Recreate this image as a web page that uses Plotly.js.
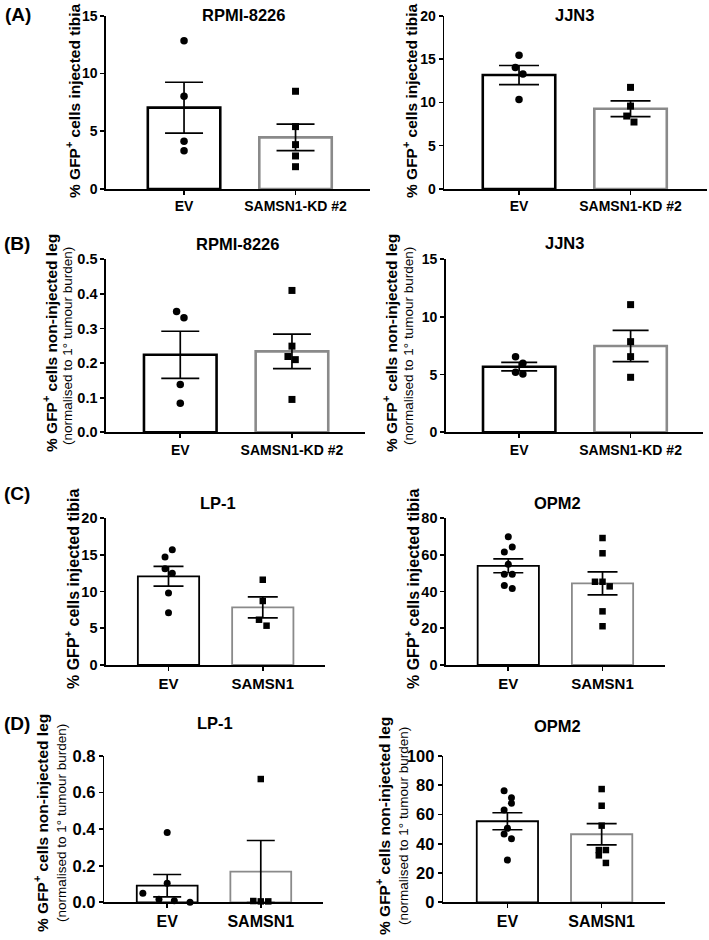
<!DOCTYPE html>
<html><head><meta charset="utf-8">
<script src="https://cdn.plot.ly/plotly-3.0.1.min.js"></script>
<style>html,body{margin:0;padding:0;background:#fff}#chart{width:709px;height:940px}</style>
</head><body><div id="chart"></div>
<script>
// ---------- categories ----------
const catsKD = ["EV", "SAMSN1-KD #2"];
const catsOE = ["EV", "SAMSN1"];

// ---------- (A) injected tibia, knock-down ----------
const aRpmiMean = [7.04, 4.47];
const aRpmiSem  = [2.20, 1.15];
const aRpmiEV   = [12.84, 8.03, 4.13, 3.32];
const aRpmiKD   = [8.46, 5.40, 3.84, 2.86, 1.93];

const aJjnMean = [13.15, 9.26];
const aJjnSem  = [1.10, 0.90];
const aJjnEV   = [15.45, 14.03, 13.26, 10.34];
const aJjnKD   = [11.73, 9.57, 8.42, 7.73];

// ---------- (B) non-injected leg, knock-down ----------
const bRpmiMean = [0.224, 0.234];
const bRpmiSem  = [0.068, 0.050];
const bRpmiEV   = [0.349, 0.331, 0.138, 0.084];
const bRpmiKD   = [0.410, 0.249, 0.219, 0.210, 0.095];

const bJjnMean = [5.69, 7.48];
const bJjnSem  = [0.37, 1.36];
const bJjnEV   = [6.56, 5.98, 5.20, 5.06];
const bJjnKD   = [11.07, 7.86, 6.56, 4.77];

// ---------- (C) injected tibia, over-expression ----------
const cLpMean = [12.07, 7.85];
const cLpSem  = [1.34, 1.43];
const cLpEV   = [15.69, 14.69, 13.10, 12.47, 9.80, 7.12];
const cLpOE   = [11.60, 8.71, 6.16, 5.35];

const cOpmMean = [54.0, 44.4];
const cOpmSem  = [3.8, 6.25];
const cOpmEV   = [69.8, 64.2, 61.5, 54.8, 49.4, 49.4, 43.2, 41.7];
const cOpmOE   = [69.1, 60.8, 45.3, 45.3, 42.8, 29.2, 21.1];

// ---------- (D) non-injected leg, over-expression ----------
const dLpMean = [0.091, 0.168];
const dLpSem  = [0.061, 0.170];
const dLpEV   = [0.381, 0.104, 0.049, 0.016, 0.009, 0.000];
const dLpOE   = [0.674, 0.007, 0.005, 0.005];

const dOpmMean = [55.4, 46.5];
const dOpmSem  = [5.8, 7.3];
const dOpmEV   = [76.3, 71.5, 67.7, 63.1, 50.6, 46.7, 43.5, 28.9];
const dOpmOE   = [77.4, 66.0, 52.4, 35.7, 35.7, 32.1, 26.9];

// ---------- horizontal scatter spread of the dots (category units) ----------
const jA1e = [0, 0, 0, 0],            jA1k = [0, 0, 0, 0, 0];
const jA2e = [0, -0.033, 0.035, 0],   jA2k = [0, 0, -0.034, 0.031];
const jB1e = [-0.033, 0.033, 0, 0],   jB1k = [0, 0, -0.036, 0.03, 0];
const jB2e = [-0.033, 0.033, -0.033, 0.033], jB2k = [0, 0, 0, 0];
const jC1e = [0.04, -0.037, -0.037, 0.04, 0, 0], jC1k = [0, 0, -0.04, 0.04];
const jC2e = [0, 0.042, -0.042, 0, -0.042, 0.042, -0.042, 0.042];
const jC2k = [0, 0, -0.08, 0, 0.076, 0, 0];
const jD1e = [0, 0, -0.26, -0.088, 0.076, 0.244], jD1k = [0, -0.08, 0, 0.08];
const jD2e = [-0.035, 0.043, 0.043, -0.035, 0, -0.035, 0.043, 0];
const jD2k = [0, 0, 0, -0.03, 0.045, -0.03, 0.045];

const W = 709, H = 940;
const F = "Liberation Sans, Arial, sans-serif";

const panels = [
  {cats:catsKD, mean:aRpmiMean, sem:aRpmiSem, a:aRpmiEV, b:aRpmiKD, ja:jA1e, jb:jA1k,
   px:[106,370], py:[15.7,189], xr:[-0.70,1.668], yr:[0,15], dt:5, fmt:"", lw:2.6, cap:19, ms:7.5, ytf:14, xtf:14},
  {cats:catsKD, mean:aJjnMean, sem:aJjnSem, a:aJjnEV, b:aJjnKD, ja:jA2e, jb:jA2k,
   px:[444.3,706.7], py:[15.7,189], xr:[-0.67,1.683], yr:[0,20], dt:5, fmt:"", lw:2.6, cap:20, ms:7.5, ytf:14, xtf:14},
  {cats:catsKD, mean:bRpmiMean, sem:bRpmiSem, a:bRpmiEV, b:bRpmiKD, ja:jB1e, jb:jB1k,
   px:[106,365], py:[259.3,432.3], xr:[-0.665,1.654], yr:[0,0.5], dt:0.1, fmt:".1f", lw:2.6, cap:19, ms:7.5, ytf:14.5, xtf:14},
  {cats:catsKD, mean:bJjnMean, sem:bJjnSem, a:bJjnEV, b:bJjnKD, ja:jB2e, jb:jB2k,
   px:[445.7,703], py:[259.3,432.3], xr:[-0.66,1.65], yr:[0,15], dt:5, fmt:"", lw:2.6, cap:18, ms:7.5, ytf:14, xtf:14},
  {cats:catsOE, mean:cLpMean, sem:cLpSem, a:cLpEV, b:cLpOE, ja:jC1e, jb:jC1k,
   px:[106,325], py:[518,665], xr:[-0.663,1.66], yr:[0,20], dt:5, fmt:"", lw:1.8, cap:15, ms:7, ytf:14.5, xtf:15},
  {cats:catsOE, mean:cOpmMean, sem:cOpmSem, a:cOpmEV, b:cOpmOE, ja:jC2e, jb:jC2k,
   px:[446,665], py:[518,665], xr:[-0.661,1.663], yr:[0,80], dt:20, fmt:"", lw:1.8, cap:15, ms:7, ytf:14.5, xtf:15},
  {cats:catsOE, mean:dLpMean, sem:dLpSem, a:dLpEV, b:dLpOE, ja:jD1e, jb:jD1k,
   px:[104.3,323.3], py:[756,902.3], xr:[-0.672,1.668], yr:[0,0.8], dt:0.2, fmt:".1f", lw:1.8, cap:14, ms:7, ytf:16.5, xtf:16},
  {cats:catsOE, mean:dOpmMean, sem:dOpmSem, a:dOpmEV, b:dOpmOE, ja:jD2e, jb:jD2k,
   px:[443.3,665], py:[756,902.3], xr:[-0.68,1.672], yr:[0,100], dt:20, fmt:"", lw:1.8, cap:15, ms:7, ytf:16.5, xtf:16}
];

const traces = [];
const layout = {
  width: W, height: H, margin: {l:0, r:0, t:0, b:0},
  paper_bgcolor: "#fff", plot_bgcolor: "rgba(0,0,0,0)",
  showlegend: false, font: {family: F, color: "#000"},
  annotations: []
};

panels.forEach((p, i) => {
  const n = i + 1, xa = "x" + (n === 1 ? "" : n), ya = "y" + (n === 1 ? "" : n);
  traces.push({
    type: "bar", x: [0, 1], y: p.mean, width: 0.65, xaxis: xa, yaxis: ya,
    marker: {color: "#ffffff", line: {color: ["#000000", "#8a8a8a"], width: p.lw}},
    error_y: {type: "data", array: p.sem, visible: true, color: "#000", thickness: 1.7, width: p.cap},
    hoverinfo: "skip"
  });
  traces.push({
    type: "scatter", mode: "markers", xaxis: xa, yaxis: ya, cliponaxis: false,
    x: p.a.map((v, k) => 0 + p.ja[k]), y: p.a,
    marker: {symbol: "circle", size: p.ms, color: "#000"}
  });
  traces.push({
    type: "scatter", mode: "markers", xaxis: xa, yaxis: ya, cliponaxis: false,
    x: p.b.map((v, k) => 1 + p.jb[k]), y: p.b,
    marker: {symbol: "square", size: p.ms - 0.5, color: "#000"}
  });
  const common = {showline: true, linecolor: "#000", linewidth: 1.6, ticks: "outside", ticklen: 4,
                  tickwidth: 1.6, tickcolor: "#000", showgrid: false, zeroline: false, fixedrange: true};
  layout["xaxis" + (n === 1 ? "" : n)] = Object.assign({}, common, {
    domain: [p.px[0] / W, p.px[1] / W], range: p.xr, anchor: ya,
    tickmode: "array", tickvals: [0, 1], ticktext: p.cats,
    tickfont: {family: F, size: p.xtf, color: "#000", weight: "bold"}
  });
  layout["yaxis" + (n === 1 ? "" : n)] = Object.assign({}, common, {
    domain: [1 - p.py[1] / H, 1 - p.py[0] / H], range: p.yr, anchor: xa,
    tick0: 0, dtick: p.dt, tickformat: p.fmt,
    tickfont: {family: F, size: p.ytf, color: "#000", weight: "bold"}
  });
});

function ann(text, x, y, size, opts) {
  layout.annotations.push(Object.assign({
    text: text, x: x / W, y: 1 - y / H, xref: "paper", yref: "paper",
    xanchor: "center", yanchor: "middle", showarrow: false,
    font: {family: F, size: size, color: "#000", weight: "bold"}
  }, opts || {}));
}

// panel titles
ann("RPMI-8226", 243, 15, 16.5);
ann("JJN3", 574, 15, 16.5);
ann("RPMI-8226", 238, 244, 16.5);
ann("JJN3", 564, 243, 16.5);
ann("LP-1", 218, 503, 16.5);
ann("OPM2", 557, 503, 16.5);
ann("LP-1", 215, 723, 16.5);
ann("OPM2", 557, 726, 16.5);

// panel letters
ann("(A)", 18, 15, 19);
ann("(B)", 17, 243, 19);
ann("(C)", 17, 493, 19);
ann("(D)", 17, 723, 19);

// y-axis titles
const yt1 = "% GFP<sup>+</sup> cells injected tibia";
const yt2 = "% GFP<sup>+</sup> cells non-injected leg";
const yt2b = "(normalised to 1° tumour burden)";
const rot = {textangle: -90};
const reg = (s) => ({textangle: -90, font: {family: F, size: s, color: "#000", weight: "normal"}});
ann(yt1, 73, 101, 15.5, rot);
ann(yt1, 410, 101, 15.5, rot);
ann(yt2, 50, 343, 15.5, rot);
ann(yt2b, 68, 346, 13.5, reg(13.5));
ann(yt2, 390, 343, 15.5, rot);
ann(yt2b, 409, 346, 13.5, reg(13.5));
ann(yt1, 72, 589, 16, rot);
ann(yt1, 412, 589, 16, rot);
ann(yt2, 41, 823, 15.5, rot);
ann(yt2b, 61, 823, 13.5, reg(13.5));
ann(yt2, 383, 826, 15.5, rot);
ann(yt2b, 403, 826, 13.5, reg(13.5));

Plotly.newPlot("chart", traces, layout, {staticPlot: true, displayModeBar: false});
</script>
</body></html>
